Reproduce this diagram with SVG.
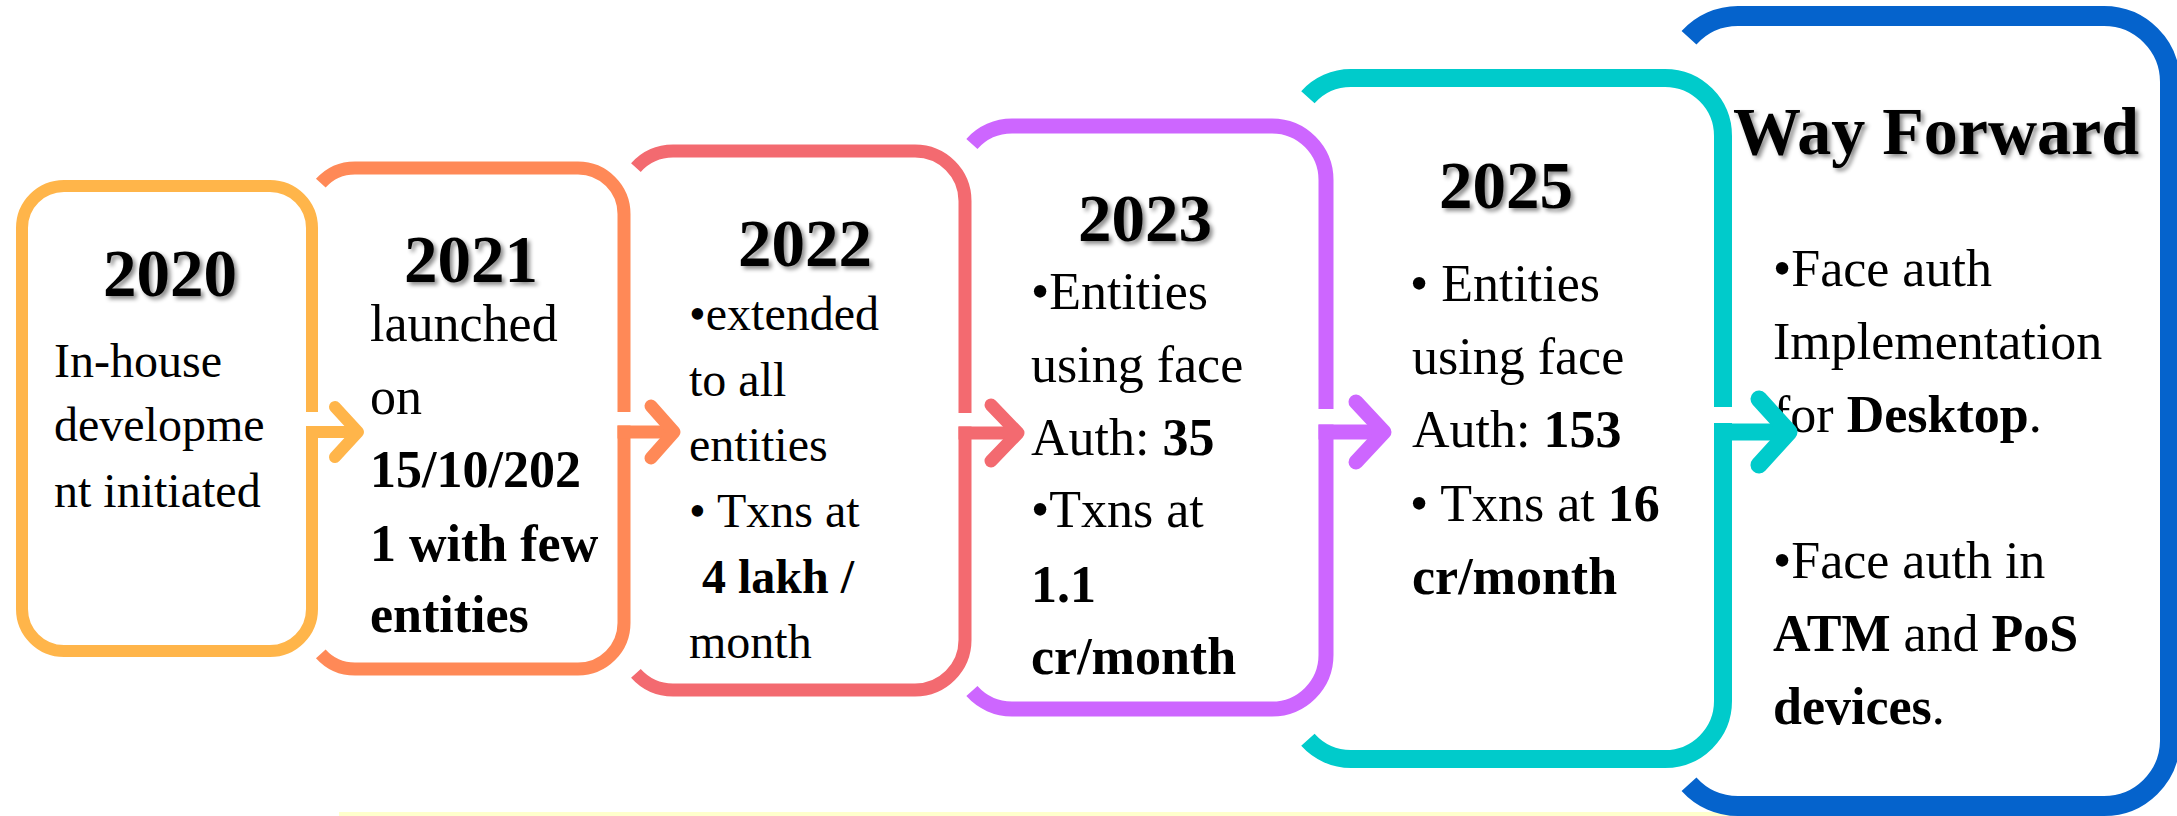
<svg xmlns="http://www.w3.org/2000/svg" width="2177" height="816" viewBox="0 0 2177 816">
<style>
  .box { fill: none; stroke-linecap: butt; stroke-linejoin: round; }
  .arr { fill: none; stroke-linecap: round; stroke-linejoin: round; }
  .bar { fill: none; stroke-linecap: butt; }
  text { font-family: "Liberation Serif", "Times New Roman", serif; fill: #000; }
  .yr { font-size: 67px; font-weight: bold; text-anchor: middle; filter: url(#shadow); }
  .b48 { font-size: 48px; }
  .b52 { font-size: 52px; }
  .bd { font-weight: bold; }
</style>
<defs>
  <filter id="shadow" x="-10%" y="-20%" width="130%" height="150%">
    <feDropShadow dx="3" dy="3" stdDeviation="2" flood-color="#000" flood-opacity="0.45"/>
  </filter>
</defs>
<rect width="2177" height="816" fill="#FFFFFF"/>
<rect x="339" y="812" width="1399" height="4" fill="#FFFFCC"/>

<g id="node-2020">
  <path class="box" stroke="#FFB54A" stroke-width="12" d="M312,412 V228 A42,42 0 0 0 270,186 H64 A42,42 0 0 0 22,228 V609 A42,42 0 0 0 64,651 H270 A42,42 0 0 0 312,609 V426"/>
  <text class="yr" x="170" y="296">2020</text>
  <text class="b48" x="54" y="377">In-house</text>
  <text class="b48" x="54" y="441">developme</text>
  <text class="b48" x="54" y="507">nt initiated</text>
</g>

<g id="node-2021">
  <path class="box" stroke="#FF8957" stroke-width="13" d="M320.8,183.2 A46,46 0 0 1 355,168 H578 A46,46 0 0 1 624,214 V412 M624,425.5 V623 A46,46 0 0 1 578,669 H355 A46,46 0 0 1 320.8,653.8"/>
  <text class="yr" x="471" y="282">2021</text>
  <text class="b52" x="370" y="341">launched</text>
  <text class="b52" x="370" y="414">on</text>
  <text class="b52 bd" x="370" y="487">15/10/202</text>
  <text class="b52 bd" x="370" y="561">1 with few</text>
  <text class="b52 bd" x="370" y="632">entities</text>
</g>

<g id="node-2022">
  <path class="box" stroke="#F36A70" stroke-width="13" d="M635.9,167.6 A50,50 0 0 1 673,151 H915 A50,50 0 0 1 965,201 V413 M965,426.5 V640 A50,50 0 0 1 915,690 H673 A50,50 0 0 1 635.9,673.4"/>
  <text class="yr" x="805" y="266">2022</text>
  <text class="b48" x="689" y="330">•extended</text>
  <text class="b48" x="689" y="396">to all</text>
  <text class="b48" x="689" y="461">entities</text>
  <text class="b48" x="689" y="527">• Txns at</text>
  <text class="b48 bd" x="702" y="593">4 lakh /</text>
  <text class="b48" x="689" y="658">month</text>
</g>

<g id="node-2023">
  <path class="box" stroke="#CD66FF" stroke-width="15" d="M971.9,143.9 A54,54 0 0 1 1012,126 H1272 A54,54 0 0 1 1326,180 V409 M1326,424.5 V655 A54,54 0 0 1 1272,709 H1012 A54,54 0 0 1 971.9,691.1"/>
  <text class="yr" x="1145" y="241">2023</text>
  <text class="b52" x="1031" y="309">•Entities</text>
  <text class="b52" x="1031" y="382">using face</text>
  <text class="b52" x="1031" y="455">Auth: <tspan class="bd">35</tspan></text>
  <text class="b52" x="1031" y="527">•Txns at</text>
  <text class="b52 bd" x="1031" y="602">1.1</text>
  <text class="b52 bd" x="1031" y="674">cr/month</text>
</g>

<g id="node-2025">
  <path class="box" stroke="#00CBCB" stroke-width="18" d="M1307.9,97.2 A58,58 0 0 1 1351,78 H1665 A58,58 0 0 1 1723,136 V407 M1723,423 V701 A58,58 0 0 1 1665,759 H1351 A58,58 0 0 1 1307.9,739.8"/>
  <text class="yr" x="1506" y="208">2025</text>
  <text class="b52" x="1410" y="301">• Entities</text>
  <text class="b52" x="1412" y="374">using face</text>
  <text class="b52" x="1412" y="447">Auth: <tspan class="bd">153</tspan></text>
  <text class="b52" x="1410" y="521">• Txns at <tspan class="bd">16</tspan></text>
  <text class="b52 bd" x="1412" y="594">cr/month</text>
</g>

<g id="node-way-forward">
  <path class="box" stroke="#0563CC" stroke-width="20" d="M1689,37.8 A66,66 0 0 1 1738,16 H2104 A66,66 0 0 1 2170,82 V741 A66,66 0 0 1 2104,806 H1738 A66,66 0 0 1 1689,784.2"/>
  <text class="yr" x="1936" y="154" style="font-size:68px">Way Forward</text>
  <text class="b52" x="1773" y="286">•Face auth</text>
  <text class="b52" x="1773" y="359">Implementation</text>
  <text class="b52" x="1773" y="432">for <tspan class="bd">Desktop</tspan>.</text>
  <text class="b52" x="1773" y="578">•Face auth in</text>
  <text class="b52" x="1773" y="651"><tspan class="bd">ATM</tspan> and <tspan class="bd">PoS</tspan></text>
  <text class="b52" x="1773" y="724"><tspan class="bd">devices</tspan>.</text>
</g>

<g id="connectors">
  <path class="bar" stroke="#FFB54A" stroke-width="12" d="M306,432 H352"/>
  <path class="arr" stroke="#FFB54A" stroke-width="12" d="M335,407 L358,432 L335,457"/>
  <path class="bar" stroke="#FF8957" stroke-width="13" d="M617.5,432 H668"/>
  <path class="arr" stroke="#FF8957" stroke-width="13" d="M651,406 L674,432 L651,458"/>
  <path class="bar" stroke="#F36A70" stroke-width="13" d="M958.5,433 H1012"/>
  <path class="arr" stroke="#F36A70" stroke-width="13" d="M991,405 L1018,433 L991,461"/>
  <path class="bar" stroke="#CD66FF" stroke-width="15" d="M1318.5,432 H1378"/>
  <path class="arr" stroke="#CD66FF" stroke-width="15" d="M1356,402 L1384,432 L1356,462"/>
  <path class="bar" stroke="#00CBCB" stroke-width="17" d="M1714,432 H1782"/>
  <path class="arr" stroke="#00CBCB" stroke-width="17" d="M1759,399 L1789,432 L1759,465"/>
</g>
</svg>
